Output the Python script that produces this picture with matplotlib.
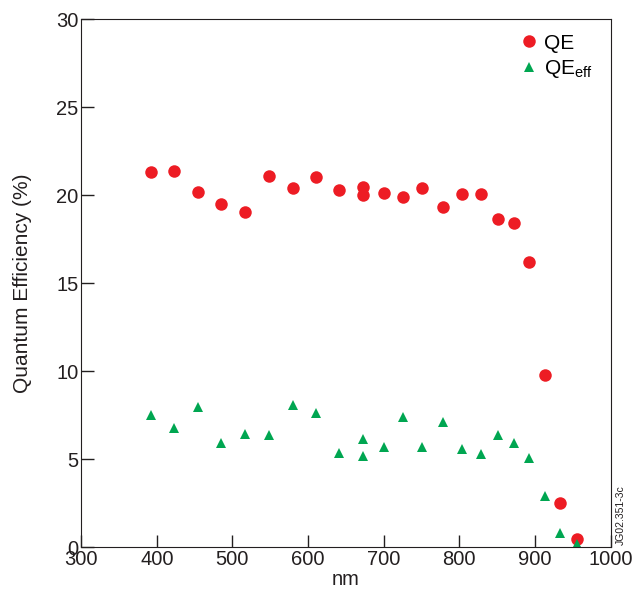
import matplotlib
matplotlib.use('Agg')
from matplotlib import pyplot as plt

plt.rcParams['font.family'] = ['Liberation Sans', 'DejaVu Sans']
plt.rcParams['mathtext.fontset'] = 'custom'
plt.rcParams['mathtext.rm'] = 'Liberation Sans'

# wavelength (nm)
wavelength = [392, 423, 455, 485, 517, 548, 580, 611, 641, 673, 673, 700,
              726, 751, 778, 803, 829, 851, 872, 892, 913, 933, 955]
# quantum efficiency (%)
qe = [21.33, 21.38, 20.15, 19.5, 19.02, 21.1, 20.38, 21.04, 20.27, 20.44, 20.02, 20.14,
      19.91, 20.4, 19.34, 20.06, 20.06, 18.62, 18.43, 16.22, 9.76, 2.48, 0.45]
qe_eff = [7.49, 6.79, 7.96, 5.92, 6.45, 6.39, 8.09, 7.62, 5.35, 6.14, 5.18, 5.69,
          7.39, 5.69, 7.13, 5.56, 5.31, 6.37, 5.92, 5.05, 2.91, 0.81, 0.19]

red = '#ED1C24'
green = '#00A651'

fig = plt.figure(figsize=(6.34, 5.96), dpi=100)
ax = fig.add_axes([0.128, 0.082, 0.835, 0.886])

ax.plot(wavelength, qe, 'o', color=red, markersize=9, markeredgewidth=0, label='QE')
ax.plot(wavelength, qe_eff, '^', color=green, markersize=7.5, markeredgewidth=0,
        label=r'QE$_{\mathregular{eff}}$')

ax.set_xlim(300, 1000)
ax.set_ylim(0, 30)
ax.set_xticks([300, 400, 500, 600, 700, 800, 900, 1000])
ax.set_yticks([0, 5, 10, 15, 20, 25, 30])
ax.tick_params(direction='in', length=9, width=1, labelsize=14.5, pad=2,
               colors='#231F20')
for s in ax.spines.values():
    s.set_color('#231F20')
ax.set_xlabel('nm', fontsize=14.5, labelpad=1, color='#231F20')
ax.set_ylabel('Quantum Efficiency (%)', fontsize=15, labelpad=17, color='#231F20')

ax.legend(loc='upper right', frameon=False, fontsize=15, handlelength=1.0,
          handletextpad=0.2, borderaxespad=0.3, labelspacing=0.25,
          bbox_to_anchor=(0.993, 1.0))

fig.text(0.979, 0.085, 'JG02.351-3c', rotation=90, fontsize=7.5, ha='center',
         va='bottom', color='#231F20')

fig.savefig('out.png', dpi=100)
plt.close()
